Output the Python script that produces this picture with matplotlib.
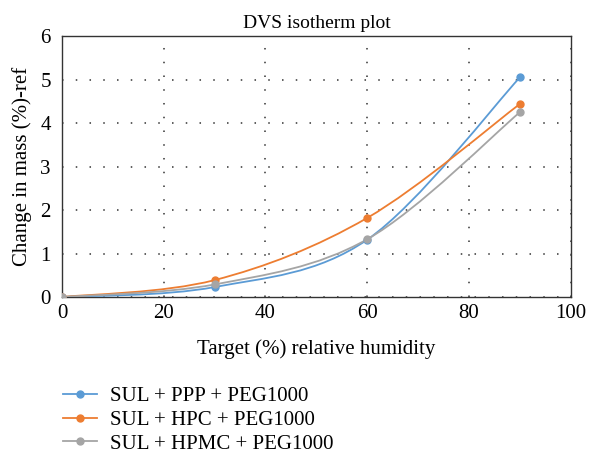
import numpy as np
import matplotlib.pyplot as plt
from matplotlib.path import Path
from matplotlib.patches import PathPatch
from matplotlib.lines import Line2D

plt.rcParams['font.family'] = ['Liberation Serif', 'DejaVu Serif']

rh = [0, 30, 60, 90]
sul_ppp = [0, 0.23, 1.32, 5.05]
sul_hpc = [0, 0.39, 1.82, 4.44]
sul_hpmc = [0, 0.29, 1.33, 4.25]

labels = ['SUL + PPP + PEG1000', 'SUL + HPC + PEG1000', 'SUL + HPMC + PEG1000']
colors = ['#5B9BD5', '#ED7D31', '#A5A5A5']


def smooth_path(x, y):
    # spreadsheet-style smoothed line: bezier segments through each point
    p = np.column_stack([x, y]).astype(float)
    n = len(p)
    verts = [p[0]]
    codes = [Path.MOVETO]
    for i in range(n - 1):
        p0 = p[i - 1] if i > 0 else p[i]
        p3 = p[i + 2] if i + 2 < n else p[i + 1]
        c1 = p[i] + (p[i + 1] - p0) / 6
        c2 = p[i + 1] - (p3 - p[i]) / 6
        verts += [c1, c2, p[i + 1]]
        codes += [Path.CURVE4] * 3
    return Path(verts, codes)


fig = plt.figure(figsize=(6.04, 4.57), dpi=100)
ax = fig.add_axes([0.1026, 0.35, 0.8424, 0.571])

for ys, c in zip([sul_ppp, sul_hpc, sul_hpmc], colors):
    ax.add_patch(PathPatch(smooth_path(rh, ys), facecolor='none',
                           edgecolor=c, lw=1.3, zorder=3))
    ax.plot(rh, ys, 'o', color=c, ms=5, zorder=4)

ax.set_xlim(0, 100)
ax.set_ylim(0, 6)
ax.set_xticks(range(0, 101, 20))
ax.set_yticks(range(0, 7))
ax.tick_params(length=0, labelsize=15)
ax.tick_params(axis='x', pad=5)
ax.tick_params(axis='y', pad=8)
ax.grid(True, color='#333333', linestyle=(0, (1, 8)), lw=1.1)
for s in ax.spines.values():
    s.set_color('#333333')
    s.set_linewidth(1.0)

ax.set_title('DVS isotherm plot', fontsize=14, pad=6)
ax.set_xlabel('Target (%) relative humidity', fontsize=15, labelpad=12)
ax.set_ylabel('Change in mass (%)-ref', fontsize=15, labelpad=6)

handles = [Line2D([], [], color=c, lw=1.3, marker='o', ms=5) for c in colors]
fig.legend(handles, labels, loc='upper left', bbox_to_anchor=(0.104, 0.154),
           frameon=False, fontsize=15, handlelength=1.63, labelspacing=0.2,
           handletextpad=0.62, borderpad=0, borderaxespad=0)

fig.savefig('out.png', dpi=100)
